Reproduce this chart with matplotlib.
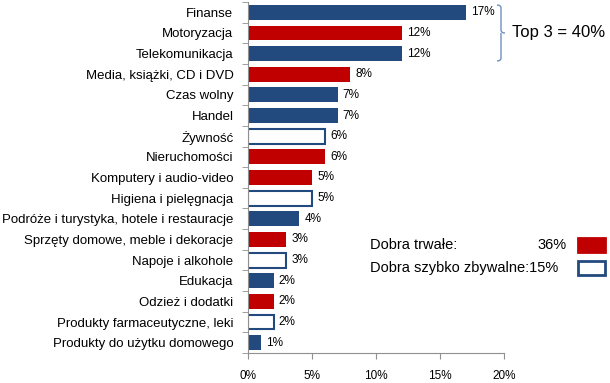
import numpy as np
import matplotlib.pyplot as plt
from matplotlib.patches import Rectangle
from matplotlib.path import Path
from matplotlib.patches import PathPatch

plt.rcParams['font.family'] = ['Liberation Sans', 'DejaVu Sans']

# data (top to bottom)
categories = ['Finanse', 'Motoryzacja', 'Telekomunikacja', 'Media, książki, CD i DVD',
              'Czas wolny', 'Handel', 'Żywność', 'Nieruchomości',
              'Komputery i audio-video', 'Higiena i pielęgnacja',
              'Podróże i turystyka, hotele i restauracje',
              'Sprzęty domowe, meble i dekoracje', 'Napoje i alkohole', 'Edukacja',
              'Odzież i dodatki', 'Produkty farmaceutyczne, leki',
              'Produkty do użytku domowego']
values = [17, 12, 12, 8, 7, 7, 6, 6, 5, 5, 4, 3, 3, 2, 2, 2, 1]
kinds = ['b', 'r', 'b', 'r', 'b', 'b', 'w', 'r', 'r', 'w', 'b', 'r', 'w', 'b', 'r', 'w', 'b']
x_ticks = [0, 5, 10, 15, 20]
legend_rows = [('Dobra trwałe:', '36%', 'r'), ('Dobra szybko zbywalne:', '15%', 'w')]

BLUE = '#234a7e'
RED = '#c00000'
face = {'b': BLUE, 'r': RED, 'w': 'white'}

fig = plt.figure(figsize=(6.1, 3.83), dpi=100)
ax = fig.add_axes([248 / 610, 30 / 383, 256 / 610, 351 / 383])

y = np.arange(len(categories))
for yi, v, k in zip(y, values, kinds):
    ax.barh(yi, v, height=0.72, color=face[k], edgecolor=BLUE,
            linewidth=1.5 if k == 'w' else 0)
    ax.text(v + 0.4, yi, f'{v}%', va='center', ha='left', fontsize=8.5)

ax.set_ylim(len(categories) - 0.5, -0.5)
ax.set_xlim(0, 20)
ax.set_yticks(y)
ax.set_yticklabels(categories, fontsize=9.5)
ax.set_yticks(np.arange(-0.5, len(categories)), minor=True)
ax.tick_params(axis='y', which='major', length=0, pad=10.5)
ax.tick_params(axis='y', which='minor', length=4, color='#909090')
ax.set_xticks(x_ticks)
ax.set_xticklabels([f'{t}%' for t in x_ticks], fontsize=8.5)
ax.tick_params(axis='x', length=4, color='#909090', pad=8)
for s in ['top', 'right']:
    ax.spines[s].set_visible(False)
for s in ['left', 'bottom']:
    ax.spines[s].set_color('#909090')

# brace around top 3
bx, bt, bb = 497, 5, 61
bm = (bt + bb) / 2
def fy(p):
    return 1 - p / 383
def fx(p):
    return p / 610
verts = [(fx(bx), fy(bt)), (fx(bx + 4), fy(bt)), (fx(bx + 4), fy(bt + 3)),
         (fx(bx + 4), fy(bm - 3)), (fx(bx + 4), fy(bm)), (fx(bx + 8), fy(bm)),
         (fx(bx + 4), fy(bm)), (fx(bx + 4), fy(bm + 3)),
         (fx(bx + 4), fy(bb - 3)), (fx(bx + 4), fy(bb)), (fx(bx), fy(bb))]
codes = [Path.MOVETO, Path.CURVE3, Path.CURVE3, Path.LINETO, Path.CURVE3, Path.CURVE3,
         Path.MOVETO, Path.CURVE3, Path.LINETO, Path.CURVE3, Path.CURVE3]
fig.patches.append(PathPatch(Path(verts, codes), transform=fig.transFigure,
                             fill=False, edgecolor='#6f8fbf', linewidth=1))
fig.text(fx(512), fy(bm), 'Top 3 = 40%', fontsize=12, va='center', ha='left')

# legend block
for i, (lab, pct, k) in enumerate(legend_rows):
    yc = 245 + i * 23
    if i == 0:
        fig.text(fx(370), fy(yc), lab, fontsize=10.5, va='center', ha='left')
        fig.text(fx(567), fy(yc), pct, fontsize=10.5, va='center', ha='right')
    else:
        fig.text(fx(370), fy(yc), lab + pct, fontsize=10.5, va='center', ha='left')
    fig.patches.append(Rectangle((fx(578), fy(yc + 7)), 27 / 610, 14 / 383,
                                 transform=fig.transFigure, facecolor=face[k],
                                 edgecolor=BLUE if k == 'w' else RED, linewidth=2))

plt.savefig('out.png', dpi=100)
